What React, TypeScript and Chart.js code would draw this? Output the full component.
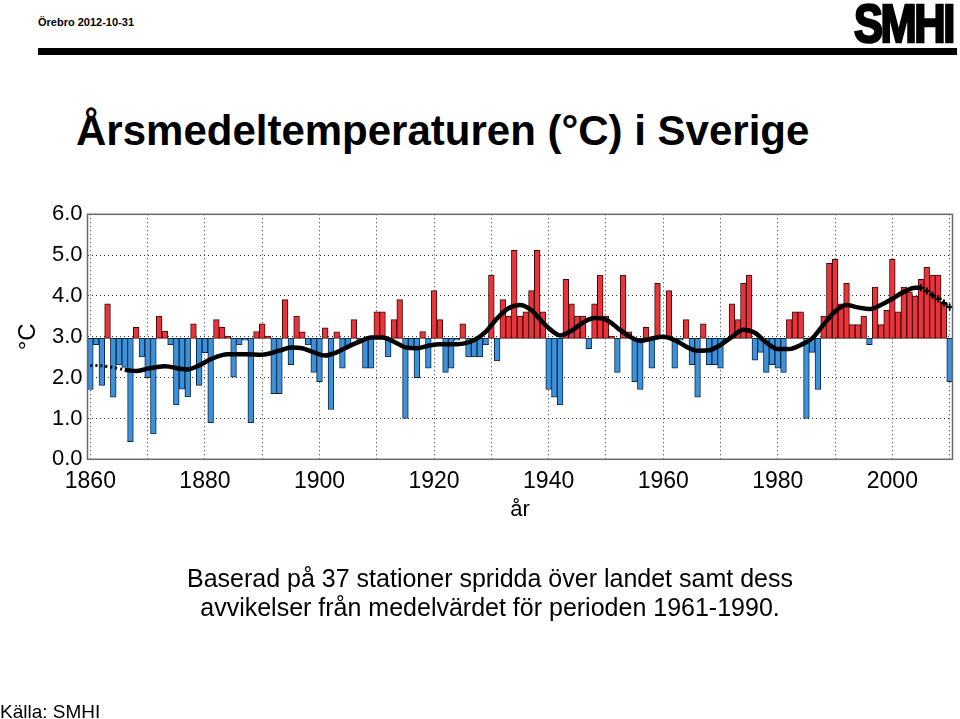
import React, { useEffect, useRef } from 'react';
import { Chart, registerables } from 'chart.js';

Chart.register(...registerables);

const FONT = "'Liberation Sans', Arial, Helvetica, sans-serif";

// Categories: one bar per year
const firstYear = 1860;
const lastYear = 2010;
const years: string[] = [];
for (let y = firstYear; y <= lastYear; y++) years.push(String(y));

// Mean 1961-1990 (baseline of the bars), °C
const BASELINE = 2.96;

// Annual mean temperature, 1860..2010
const temps = [
  1.71, 2.81, 1.81, 3.81, 1.52, 2.31, 2.25, 0.43, 3.23, 2.51, // 1860-1869
  2.0, 0.62, 3.51, 3.14, 2.81, 1.33, 1.72, 1.53, 3.32, 1.81, // 1870-1879
  2.61, 0.9, 3.42, 3.23, 3.02, 2.01, 2.8, 2.92, 0.9, 3.13, // 1880-1889
  3.32, 3.02, 1.61, 1.61, 3.91, 2.32, 3.51, 3.12, 2.8, 2.13, // 1890-1899
  1.9, 3.22, 1.22, 3.12, 2.23, 2.75, 3.42, 2.9, 2.23, 2.23, // 1900-1909
  3.61, 3.61, 2.51, 3.42, 3.91, 1.0, 2.71, 2.0, 3.13, 2.23, // 1910-1919
  4.13, 3.42, 2.13, 2.23, 2.92, 3.32, 2.51, 2.51, 2.51, 2.8, // 1920-1929
  4.51, 2.41, 3.91, 3.51, 5.12, 3.51, 3.61, 4.13, 5.12, 3.61, // 1930-1939
  1.71, 1.52, 1.33, 4.41, 3.81, 3.51, 3.51, 2.71, 3.81, 4.51, // 1940-1949
  3.51, 3.02, 2.13, 4.51, 3.12, 1.9, 1.71, 3.23, 2.23, 4.31, // 1950-1959
  3.02, 4.13, 2.23, 2.92, 3.42, 2.32, 1.52, 3.32, 2.32, 2.32, // 1960-1969
  2.23, 2.9, 3.81, 3.42, 4.31, 4.51, 2.43, 2.62, 2.13, 2.32, // 1970-1979
  2.23, 2.13, 3.42, 3.61, 3.61, 1.0, 2.62, 1.71, 3.51, 4.8, // 1980-1989
  4.9, 3.81, 4.31, 3.3, 3.3, 3.51, 2.81, 4.22, 3.3, 3.65, // 1990-1999
  4.9, 3.61, 4.22, 4.1, 4.0, 4.41, 4.7, 4.51, 4.51, 3.81, // 2000-2009
  1.9, // 2010
];

// Smoothed curve
const trendStartYears = [1860, 1862, 1864, 1866];
const trendStartValues = [2.3, 2.29, 2.25, 2.19];

const trendYears = [
  1866, 1868, 1870, 1873, 1876, 1877, 1879, 1881, 1884, 1887, 1890, 1893, 1895,
  1897, 1899, 1901, 1903, 1905, 1907, 1909, 1911, 1913, 1915, 1917, 1919, 1921,
  1924, 1927, 1929, 1931, 1933, 1935, 1937, 1939, 1941, 1942, 1944, 1946, 1948,
  1950, 1952, 1954, 1956, 1958, 1960, 1962, 1964, 1966, 1968, 1970, 1972, 1974,
  1976, 1978, 1980, 1982, 1984, 1986, 1988, 1990, 1992, 1994, 1996, 1998, 2000,
  2002, 2004, 2005,
];
const trendValues = [
  2.19, 2.16, 2.22, 2.28, 2.21, 2.2, 2.3, 2.45, 2.57, 2.57, 2.56, 2.66, 2.74,
  2.72, 2.62, 2.54, 2.62, 2.76, 2.88, 2.98, 2.98, 2.88, 2.74, 2.72, 2.78, 2.82,
  2.82, 2.92, 3.12, 3.45, 3.7, 3.78, 3.65, 3.35, 3.1, 3.03, 3.15, 3.35, 3.46,
  3.42, 3.22, 3.02, 2.9, 2.96, 3.0, 2.92, 2.76, 2.66, 2.67, 2.8, 3.0, 3.17,
  3.1, 2.86, 2.7, 2.7, 2.8, 2.96, 3.3, 3.62, 3.78, 3.72, 3.68, 3.78, 3.93,
  4.1, 4.2, 4.2,
];
const trendEndYears = [2005, 2006, 2007, 2008, 2009, 2010];
const trendEndValues = [4.2, 4.12, 4.02, 3.93, 3.83, 3.73];

const yTickValues = [0, 1, 2, 3, 4, 5, 6];

const RED = 'rgb(233, 52, 60)';
const BLUE = 'rgb(60, 145, 218)';

const framePlugin = {
  id: 'frame',
  afterDatasetsDraw(chart: any) {
    const { ctx, chartArea } = chart;
    ctx.save();
    ctx.strokeStyle = '#6a6a6a';
    ctx.lineWidth = 1.5;
    ctx.strokeRect(chartArea.left, chartArea.top, chartArea.right - chartArea.left, chartArea.bottom - chartArea.top);
    ctx.restore();
  },
};

function TempChart() {
  const ref = useRef<HTMLCanvasElement | null>(null);
  useEffect(() => {
    if (!ref.current) return;
    const pts = (ys: number[], vs: number[]) => ys.map((y, i) => ({ x: String(y), y: vs[i] }));
    const chart = new Chart(ref.current, {
      type: 'bar',
      data: {
        labels: years,
        datasets: [
          {
            type: 'line',
            data: pts(trendYears, trendValues) as any,
            borderColor: '#000',
            borderWidth: 4.5,
            pointRadius: 0,
            cubicInterpolationMode: 'monotone',
            order: 0,
          } as any,
          {
            type: 'line',
            data: pts(trendStartYears, trendStartValues) as any,
            borderColor: '#000',
            borderWidth: 3,
            borderDash: [2, 3],
            pointRadius: 0,
            tension: 0.3,
            order: 0,
          } as any,
          {
            type: 'line',
            data: pts(trendEndYears, trendEndValues) as any,
            borderColor: '#000',
            borderWidth: 2,
            borderDash: [2, 3],
            pointStyle: 'cross',
            pointRadius: 3.5,
            pointBorderWidth: 2,
            pointBorderColor: '#000',
            tension: 0.3,
            order: 0,
          } as any,
          {
            type: 'bar',
            data: temps.map((v) => [BASELINE, v]) as any,
            backgroundColor: temps.map((v) => (v >= BASELINE ? RED : BLUE)),
            borderColor: temps.map((v) => (v >= BASELINE ? '#3b0b0b' : '#0d2a45')),
            borderWidth: 1,
            borderSkipped: false,
            barPercentage: 1,
            categoryPercentage: 1,
            order: 2,
          } as any,
        ],
      },
      options: {
        animation: false,
        responsive: false,
        maintainAspectRatio: false,
        events: [],
        layout: { padding: { left: 0, right: 7.5, top: 214.3, bottom: 195.7 } },
        plugins: { legend: { display: false }, tooltip: { enabled: false } },
        scales: {
          x: {
            type: 'category',
            offset: true,
            afterFit: (s: any) => { s.height = 64; },
            grid: {
              offset: false,
              color: '#333',
              lineWidth: 1,
              drawTicks: false,
            },
            border: { display: false, dash: [1, 3] },
            ticks: {
              autoSkip: false,
              maxRotation: 0,
              minRotation: 0,
              padding: 9,
              color: '#000',
              font: { family: FONT, size: 23 },
              callback: (_v: any, index: number) => {
                const y = firstYear + index;
                if (y % 20 === 0) return String(y);
                if (y % 10 === 0) return '';
                return null;
              },
            },
            title: {
              display: true,
              text: 'år',
              color: '#000',
              font: { family: FONT, size: 22 },
              padding: { top: 0, bottom: 0 },
            },
          },
          y: {
            min: 0,
            max: 6,
            afterFit: (s: any) => { s.width = 87.5; },
            afterBuildTicks: (s: any) => { s.ticks = yTickValues.map((v) => ({ value: v })); },
            grid: { color: '#333', lineWidth: 1, drawTicks: false },
            border: { display: false, dash: [1, 3] },
            ticks: {
              padding: 5,
              color: '#000',
              font: { family: FONT, size: 22 },
              callback: (v: any) => Number(v).toFixed(1),
            },
            title: {
              display: true,
              text: '°C',
              color: '#000',
              font: { family: FONT, size: 24 },
              padding: { top: 13.6, bottom: 0 },
            },
          },
        },
      } as any,
      plugins: [framePlugin],
    });
    return () => chart.destroy();
  }, []);
  return (
    <canvas
      ref={ref}
      width={960}
      height={719}
      style={{ position: 'absolute', left: 0, top: 0, width: 960, height: 719 }}
    />
  );
}

export default function App() {
  const abs: React.CSSProperties = { position: 'absolute', margin: 0, fontFamily: FONT, color: '#000', whiteSpace: 'nowrap' };
  return (
    <div style={{ position: 'absolute', left: 0, top: 0, width: 960, height: 719, overflow: 'hidden', background: '#fff' }}>
      <div style={{ ...abs, left: 38, top: 16, fontSize: 11, lineHeight: '12px', fontWeight: 'bold' }}>Örebro 2012-10-31</div>
      <div
        style={{
          ...abs,
          left: 854,
          top: -2,
          fontSize: 53,
          lineHeight: '52px',
          fontWeight: 'bold',
          letterSpacing: -3,
          transform: 'scaleX(0.82)',
          transformOrigin: 'left top',
          WebkitTextStroke: '2.5px #000',
        }}
      >
        SMHI
      </div>
      <div style={{ position: 'absolute', left: 38, top: 48, width: 919, height: 7, background: '#000' }} />
      <div style={{ ...abs, left: 76, top: 110, fontSize: 42, lineHeight: '42px', fontWeight: 'bold' }}>
        Årsmedeltemperaturen (°C) i Sverige
      </div>
      <TempChart />
      <div style={{ ...abs, left: 0, width: 980, top: 564, fontSize: 25, lineHeight: '29px', textAlign: 'center' }}>
        Baserad på 37 stationer spridda över landet samt dess
        <br />
        avvikelser från medelvärdet för perioden 1961-1990.
      </div>
      <div style={{ ...abs, left: 0, top: 702, fontSize: 19, lineHeight: '19px' }}>Källa: SMHI</div>
    </div>
  );
}
